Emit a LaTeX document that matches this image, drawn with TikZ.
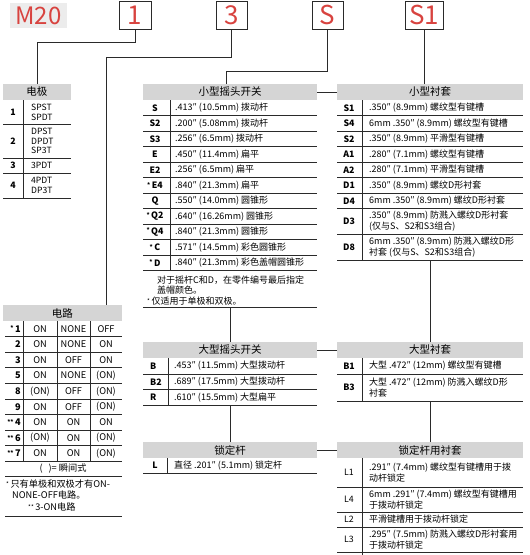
\documentclass[tikz,border=0pt]{standalone}
\usepackage{fontspec}
\setmainfont{Noto Sans CJK SC}
\definecolor{hdrgray}{HTML}{D5D5D5}
\definecolor{mbg}{HTML}{ECECEC}
\definecolor{redc}{HTML}{D8433F}
\definecolor{linec}{HTML}{2A2A2A}
\newcommand\stm{\raisebox{1.2pt}{\fontsize{6}{6}\selectfont *}\,}
\newcommand\sstm{\raisebox{1.2pt}{\fontsize{6}{6}\selectfont **}\,}
\begin{document}
\begin{tikzpicture}[x=1pt,y=-1pt,
  hdr/.style={fill=hdrgray, inner sep=0pt, font=\fontsize{10.5}{12}\selectfont},
  rl/.style={draw=linec, line width=0.9pt},
  conn/.style={draw=linec, line width=0.9pt},
  lab/.style={inner sep=0pt, font=\bfseries\fontsize{8.8}{10}\selectfont},
  labr/.style={inner sep=0pt, font=\fontsize{8.8}{10}\selectfont},
  txt/.style={anchor=west, inner sep=0pt, align=left, font=\fontsize{9}{11}\selectfont},
  ctxt/.style={inner sep=0pt, font=\fontsize{9.2}{11}\selectfont},
  topbox/.style={draw=linec, line width=0.9pt, text=redc, inner sep=0pt, minimum height=28pt, font=\fontsize{26}{26}\selectfont}]
\useasboundingbox (0,0) rectangle (530,555);
\fill[white] (0,0) rectangle (530,555);

% ---------- top code ----------
\node[fill=mbg, minimum width=57pt, minimum height=25pt, inner sep=0pt, text=redc, font=\fontsize{24}{24}\selectfont] (m20) at (38.5,15.5) {M20};
\node[topbox, minimum width=32pt] (b1) at (135,15) {1};
\node[topbox, minimum width=31pt] (b3) at (231.5,15) {3};
\node[topbox, minimum width=31pt] (bS) at (327.5,15) {S};
\node[topbox, minimum width=38pt] (bS1) at (424,15) {S1};

% ---------- headers ----------
\node[hdr, minimum width=68pt, minimum height=16pt] (hpole) at (37,92) {电极};
\node[hdr, minimum width=174pt, minimum height=16pt] (hsmall) at (230,92) {小型摇头开关};
\node[hdr, minimum width=186pt, minimum height=16pt] (hbush) at (430,92) {小型衬套};
\node[hdr, minimum width=119pt, minimum height=16pt] (hcirc) at (62.5,313) {电路};
\node[hdr, minimum width=174pt, minimum height=16pt] (hbig) at (230,350) {大型摇头开关};
\node[hdr, minimum width=186pt, minimum height=16pt] (hbigb) at (430,350) {大型衬套};
\node[hdr, minimum width=174pt, minimum height=16pt] (hlock) at (230,450) {锁定杆};
\node[hdr, minimum width=186pt, minimum height=16pt] (hlockb) at (430,450) {锁定杆用衬套};

% ---------- connectors ----------
\coordinate (k1) at (37,42);
\coordinate (k3) at (106,57);
\coordinate (kS) at (226,71);
\draw[conn] (b1.south) |- (k1) -- (hpole.north);
\draw[conn] (b3.south) |- (k3) -- (k3 |- hcirc.north);
\draw[conn] (bS.south) |- (kS) -- (kS |- hsmall.north);
\draw[conn] (bS1.south) -- (bS1.south |- hbush.north);
\draw[conn] (hsmall.east) -- (hbush.west);
\draw[conn] (hbig.east) -- (hbigb.west);
\draw[conn] (hlock.east) -- (hlockb.west);
\coordinate (km1) at (230,307);
\coordinate (km2) at (230,405);
\coordinate (kr1) at (430,260.5);
\coordinate (kr2) at (430,401);
\draw[conn] (km1) -- (km1 |- hbig.north);
\draw[conn] (km2) -- (km2 |- hlock.north);
\draw[conn] (kr1) -- (kr1 |- hbigb.north);
\draw[conn] (kr2) -- (kr2 |- hlockb.north);

% ---------- 电极 table ----------
\draw[rl] (23,100) -- (23,198);
\foreach \yy in {124,158,173,198} \draw[rl] (3,\yy) -- (71,\yy);
\node[lab] (p1) at (13,112) {1};
\node[lab] (p2) at (13,141) {2};
\node[lab] (p3) at (13,165.5) {3};
\node[lab] (p4) at (13,185.5) {4};
\node[txt, font=\fontsize{8.6}{9.8}\selectfont] (pt1) at (31,112) {SPST\\SPDT};
\node[txt, font=\fontsize{8.6}{9.8}\selectfont] (pt2) at (31,141) {DPST\\DPDT\\SP3T};
\node[txt, font=\fontsize{8.6}{9.8}\selectfont] (pt3) at (31,165.5) {3PDT};
\node[txt, font=\fontsize{8.6}{9.8}\selectfont] (pt4) at (31,185.5) {4PDT\\DP3T};

% ---------- 电路 table ----------
\foreach \xx in {23,57,90} \draw[rl] (\xx,321) -- (\xx,461.4);
\foreach \i/\l/\a/\b/\c in {1/{\stm 1}/ON/NONE/OFF, 2/2/ON/NONE/ON, 3/3/ON/OFF/ON, 4/5/ON/NONE/{(ON)}, 5/8/{(ON)}/OFF/{(ON)}, 6/9/ON/OFF/{(ON)}, 7/{\sstm 4}/ON/ON/ON, 8/{\sstm 6}/{(ON)}/ON/{(ON)}, 9/{\sstm 7}/ON/ON/{(ON)}}{
  \pgfmathsetmacro\yc{321+15.6*\i-7.8}
  \pgfmathsetmacro\yb{321+15.6*\i}
  \node[lab, anchor=east, font=\bfseries\fontsize{9.2}{10}\selectfont] (cl\i) at (21,\yc) {\l};
  \node[ctxt] (ca\i) at (40,\yc) {\a};
  \node[ctxt] (cb\i) at (73.5,\yc) {\b};
  \node[ctxt] (cc\i) at (106,\yc) {\c};
  \draw[rl] (5,\yb) -- (122,\yb);
}
\node[ctxt] (fnm) at (63,469) {(\hspace{6pt})= 瞬间式};
\draw[rl] (5,476) -- (122,476);
\node[txt, font=\fontsize{9.2}{11}\selectfont] (fn1) at (6,484) {\stm 只有单极和双极才有ON-};
\node[txt, font=\fontsize{9.2}{11}\selectfont] (fn2) at (12,495) {NONE-OFF电路。};
\node[txt, font=\fontsize{9.2}{11}\selectfont] (fn3) at (28,507) {\sstm 3-ON电路};
\draw[rl] (5,516) -- (122,516);

% ---------- 小型摇头开关 ----------
\draw[rl] (170,100) -- (170,270.5);
\foreach \i/\l/\t in {1/S/{.413″ (10.5mm) 拨动杆}, 2/S2/{.200″ (5.08mm) 拨动杆}, 3/S3/{.256″ (6.5mm) 拨动杆}, 4/E/{.450″ (11.4mm) 扁平}, 5/E2/{.256″ (6.5mm) 扁平}, 6/{\stm E4}/{.840″ (21.3mm) 扁平}, 7/Q/{.550″ (14.0mm) 圆锥形}, 8/{\stm Q2}/{.640″ (16.26mm) 圆锥形}, 9/{\stm Q4}/{.840″ (21.3mm) 圆锥形}, 10/{\stm C}/{.571″ (14.5mm) 彩色圆锥形}, 11/{\stm D}/{.840″ (21.3mm) 彩色盖帽圆锥形}}{
  \pgfmathsetmacro\yc{100+15.5*\i-7.75}
  \pgfmathsetmacro\yb{100+15.5*\i}
  \node[lab] (ml\i) at (155,\yc) {\l};
  \node[txt] (mt\i) at (175,\yc) {\t};
  \draw[rl] (143,\yb) -- (317,\yb);
}
\node[txt] (mn1) at (157,280) {对于摇杆C和D，在零件编号最后指定};
\node[txt] (mn2) at (157,290.5) {盖帽颜色。};
\node[txt] (mn3) at (147,301) {\stm 仅适用于单极和双极。};
\draw[rl] (143,307) -- (317,307);

% ---------- 小型衬套 ----------
\draw[rl] (362,100) -- (362,260.5);
\foreach \i/\l/\t in {1/S1/{.350″ (8.9mm) 螺纹型有键槽}, 2/S4/{6mm .350″ (8.9mm) 螺纹型有键槽}, 3/S2/{.350″ (8.9mm) 平滑型有键槽}, 4/A1/{.280″ (7.1mm) 螺纹型有键槽}, 5/A2/{.280″ (7.1mm) 平滑型有键槽}, 6/D1/{.350″ (8.9mm) 螺纹D形衬套}, 7/D4/{6mm .350″ (8.9mm) 螺纹D形衬套}}{
  \pgfmathsetmacro\yc{100+15.5*\i-7.75}
  \pgfmathsetmacro\yb{100+15.5*\i}
  \node[lab] (rl\i) at (349,\yc) {\l};
  \node[txt] (rt\i) at (369,\yc) {\t};
  \draw[rl] (337,\yb) -- (523,\yb);
}
\node[lab] (rl8) at (349,221.5) {D3};
\node[txt] (rt8) at (369,221.5) {.350″ (8.9mm) 防溅入螺纹D形衬套\\(仅与S、S2和S3组合)};
\draw[rl] (337,234.5) -- (523,234.5);
\node[lab] (rl9) at (349,247.5) {D8};
\node[txt] (rt9) at (369,247.5) {6mm .350″ (8.9mm) 防溅入螺纹D形\\衬套 (仅与S、S2和S3组合)};
\draw[rl] (337,260.5) -- (523,260.5);

% ---------- 大型摇头开关 ----------
\draw[rl] (168,358) -- (168,405);
\node[lab, anchor=west] (bl1) at (150,366) {B};
\node[txt] (bt1) at (174,366) {.453″ (11.5mm) 大型拨动杆};
\draw[rl] (143,374) -- (317,374);
\node[lab, anchor=west] (bl2) at (150,381.75) {B2};
\node[txt] (bt2) at (174,381.75) {.689″ (17.5mm) 大型拨动杆};
\draw[rl] (143,389.5) -- (317,389.5);
\node[lab, anchor=west] (bl3) at (150,397.25) {R};
\node[txt] (bt3) at (174,397.25) {.610″ (15.5mm) 大型扁平};
\draw[rl] (143,405) -- (317,405);

% ---------- 大型衬套 ----------
\draw[rl] (362,358) -- (362,401);
\node[lab] (gl1) at (349,366) {B1};
\node[txt] (gt1) at (369,366) {大型 .472″ (12mm) 螺纹型有键槽};
\draw[rl] (337,374) -- (523,374);
\node[lab] (gl2) at (349,387.5) {B3};
\node[txt] (gt2) at (369,387.5) {大型 .472″ (12mm) 防溅入螺纹D形\\衬套};
\draw[rl] (337,401) -- (523,401);

% ---------- 锁定杆 ----------
\draw[rl] (167,458) -- (167,473);
\node[lab] (ll1) at (155,465.5) {L};
\node[txt] (lt1) at (174,465.5) {直径 .201″ (5.1mm) 锁定杆};
\draw[rl] (143,473) -- (317,473);

% ---------- 锁定杆用衬套 ----------
\draw[rl] (362,458) -- (362,555);
\node[labr] (kl1) at (349,472.5) {L1};
\node[txt] (kt1) at (369,472.5) {.291″ (7.4mm) 螺纹型有键槽用于拨\\动杆锁定};
\draw[rl] (337,487) -- (523,487);
\node[labr] (kl2) at (349,499.5) {L4};
\node[txt] (kt2) at (369,499.5) {6mm .291″ (7.4mm) 螺纹型有键槽用\\于拨动杆锁定};
\draw[rl] (337,512) -- (523,512);
\node[labr] (kl3) at (349,519.5) {L2};
\node[txt] (kt3) at (369,519.5) {平滑键槽用于拨动杆锁定};
\draw[rl] (337,527) -- (523,527);
\node[labr] (kl4) at (349,539.5) {L3};
\node[txt] (kt4) at (369,539.5) {.295″ (7.5mm) 防溅入螺纹D形衬套用\\于拨动杆锁定};
\draw[rl] (337,552) -- (523,552);
\end{tikzpicture}
\end{document}
